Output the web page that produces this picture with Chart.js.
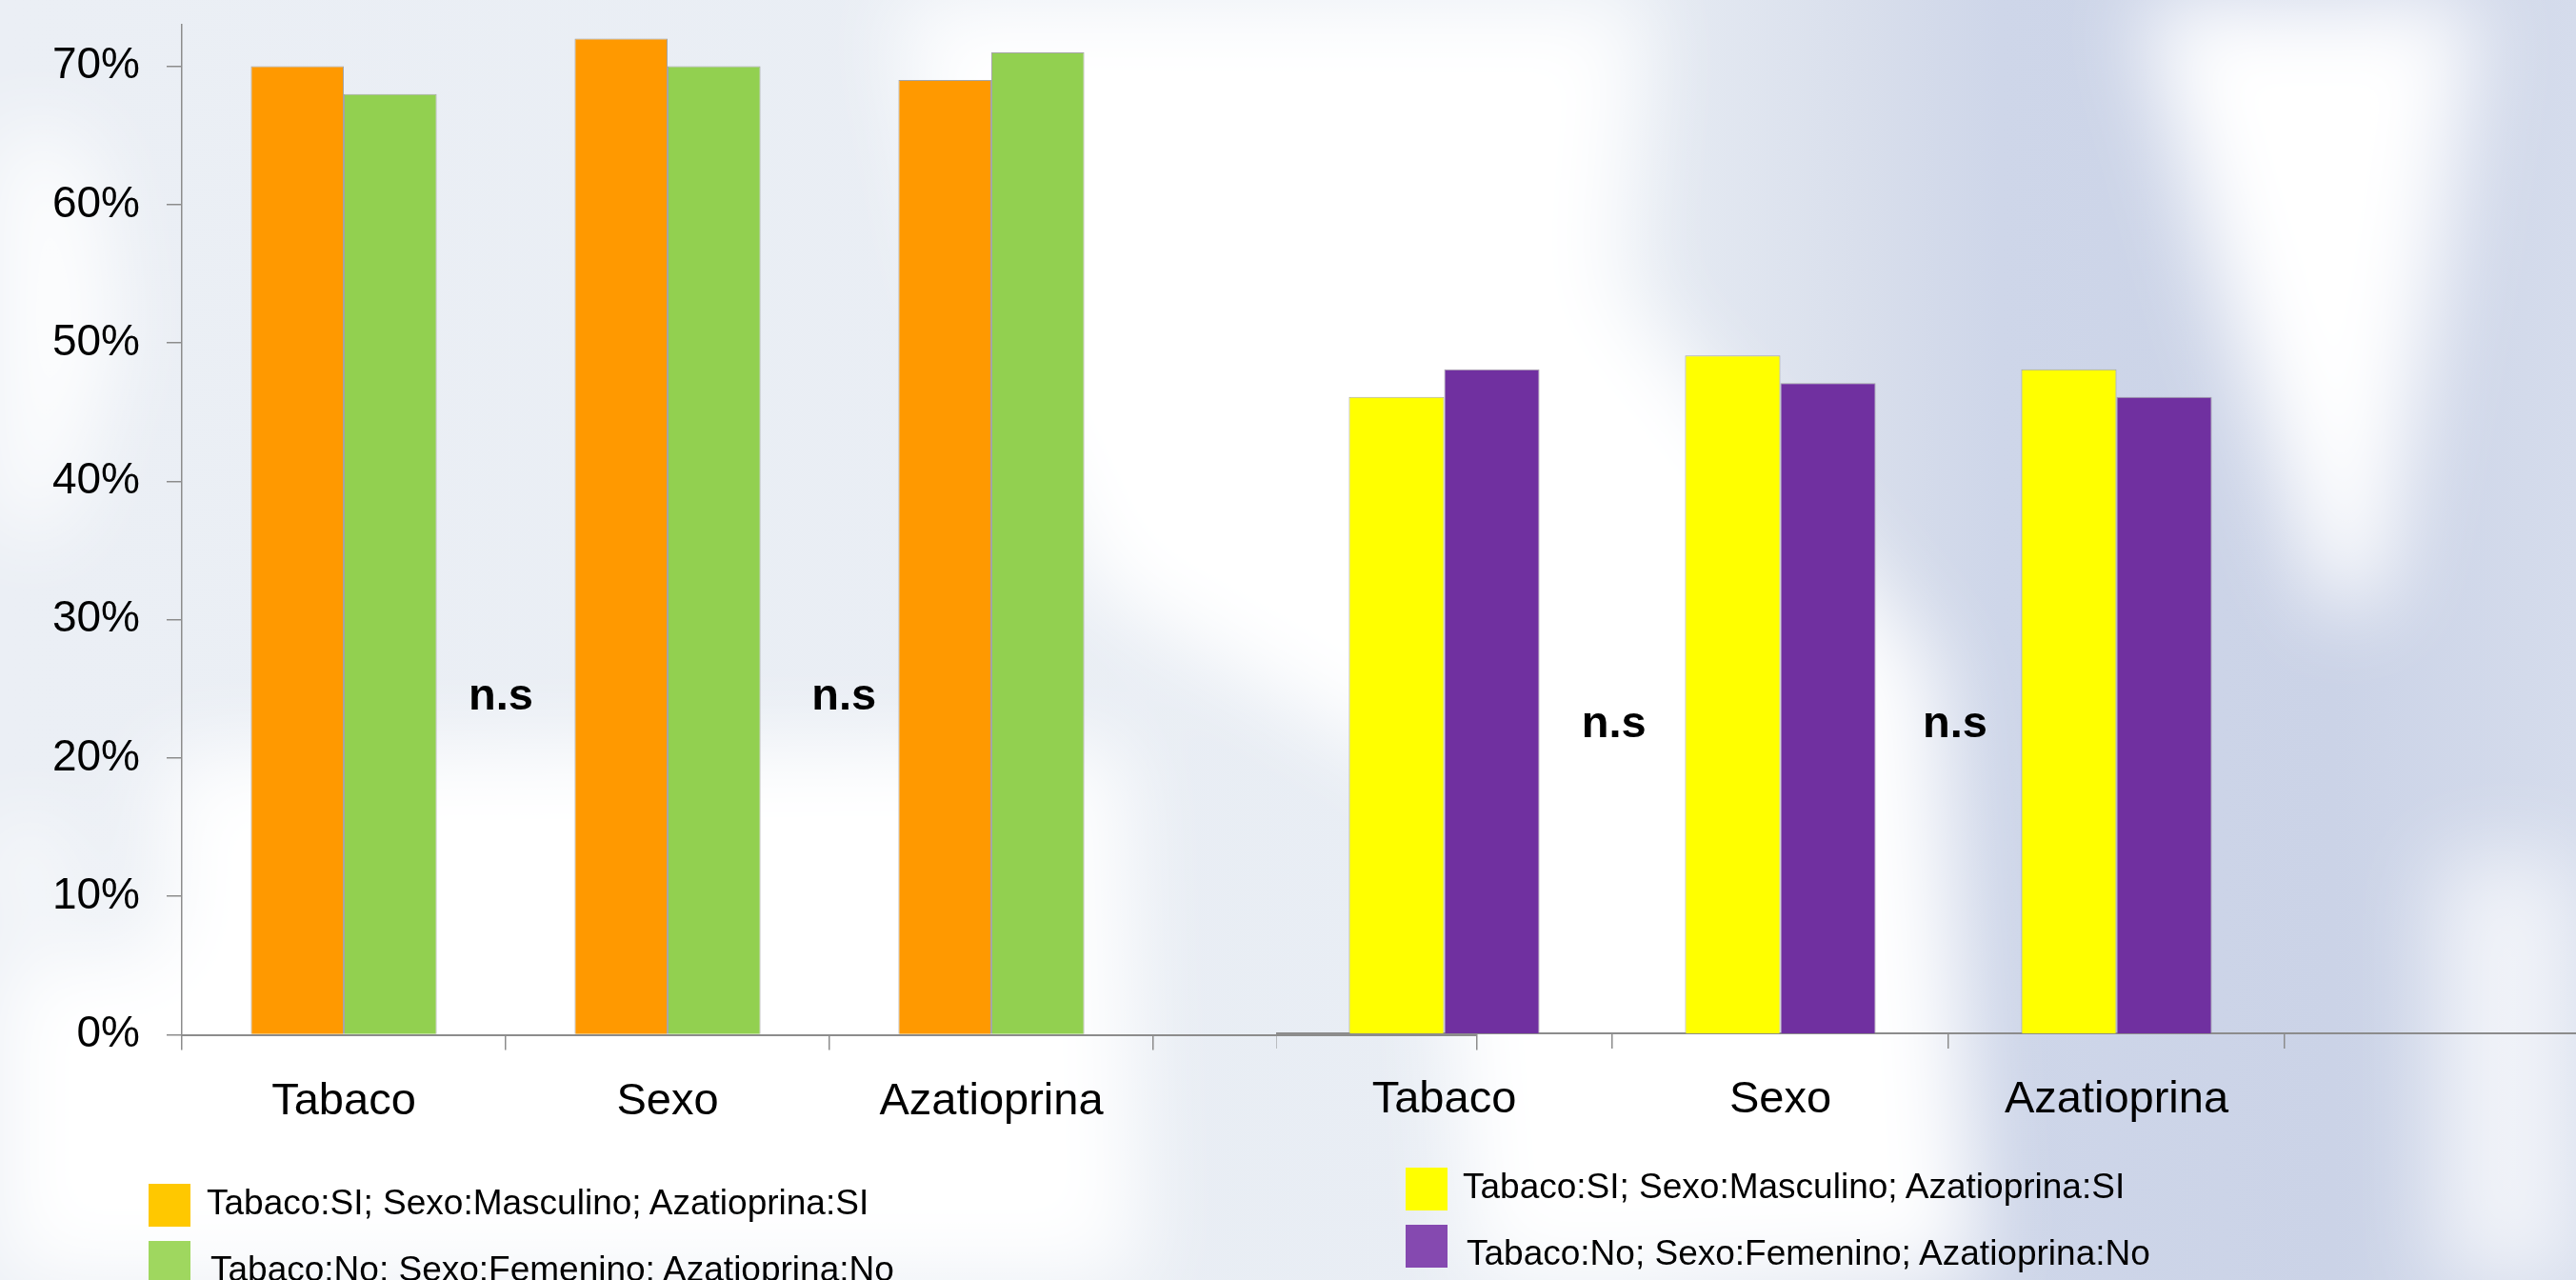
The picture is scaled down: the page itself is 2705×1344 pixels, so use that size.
<!DOCTYPE html>
<html lang="es">
  <head>
    <meta charset="UTF-8" />
    <title>Tabaco / Sexo / Azatioprina</title>
    <script src="https://cdn.jsdelivr.net/npm/chart.js"></script>
    <style>
      html,
      body {
        margin: 0;
        padding: 0;
        width: 2705px;
        height: 1344px;
        overflow: hidden;
        font-family: "Liberation Sans", Arial, sans-serif;
      }
      body {
        position: relative;
        background: linear-gradient(to right, #ebeff5 0px, #e8edf4 1700px, #d9dfec 1950px, #ced6e9 2100px, #cbd3e7 2450px, #d5dcec 2705px);
      }
      .blur {
        position: absolute;
        left: 0;
        top: 0;
        width: 2705px;
        height: 1344px;
        filter: blur(45px);
      }
      .blur div {
        position: absolute;
        left: 0;
        top: 0;
        width: 2705px;
        height: 1344px;
        background: #fff;
      }
      #wBottomLeft {
        clip-path: polygon(170px 790px, 1180px 780px, 1200px 1400px, -50px 1400px, -50px 1000px, 170px 1000px);
      }
      #wMiddle {
        clip-path: polygon(930px -50px, 1730px -50px, 1700px 300px, 2030px 700px, 2080px 1400px, 1550px 1400px, 1500px 820px, 1150px 620px, 1000px 300px);
      }
      #wTopRight {
        clip-path: polygon(2230px -50px, 2610px -50px, 2560px 300px, 2500px 640px, 2440px 640px, 2330px 300px);
      }
      #wBottomRight {
        clip-path: polygon(2560px 900px, 2760px 900px, 2760px 1400px, 2560px 1400px);
        opacity: 0.7;
      }
      #wLeftEdge {
        clip-path: polygon(-50px 120px, 90px 150px, 120px 350px, 60px 560px, -50px 560px);
      }
      #wLeftEdge2 {
        clip-path: polygon(-50px 860px, 60px 870px, 70px 950px, -50px 960px);
      }
      #leftWrap {
        position: absolute;
        left: 0;
        top: 0;
        width: 1553px;
        height: 1344px;
      }
      #rightWrap {
        position: absolute;
        left: 1340px;
        top: 0;
        width: 1420px;
        height: 1344px;
      }
      .swatch {
        position: absolute;
        width: 44px;
        height: 45px;
      }
      .ltext {
        position: absolute;
        white-space: nowrap;
        font-size: 37px;
        line-height: 37px;
        color: #000;
      }
    </style>
  </head>
  <body>
    <div class="blur">
      <div id="wBottomLeft"></div>
      <div id="wMiddle"></div>
      <div id="wTopRight"></div>
      <div id="wBottomRight"></div>
      <div id="wLeftEdge"></div>
      <div id="wLeftEdge2"></div>
    </div>

    <div id="leftWrap"><canvas id="leftChart"></canvas></div>
    <div id="rightWrap"><canvas id="rightChart"></canvas></div>

    <div class="swatch" id="lsw0" style="left: 156px; top: 1243px"></div>
    <div class="ltext" id="ltx0" style="left: 217px; top: 1244px"></div>
    <div class="swatch" id="lsw1" style="left: 156px; top: 1303px"></div>
    <div class="ltext" id="ltx1" style="left: 221px; top: 1314px"></div>

    <div class="swatch" id="rsw0" style="left: 1476px; top: 1226px"></div>
    <div class="ltext" id="rtx0" style="left: 1536px; top: 1227px"></div>
    <div class="swatch" id="rsw1" style="left: 1476px; top: 1286px"></div>
    <div class="ltext" id="rtx1" style="left: 1540px; top: 1297px"></div>

    <script>
      const categories = ["Tabaco", "Sexo", "Azatioprina", ""];
      const seriesNames = [
        "Tabaco:SI; Sexo:Masculino; Azatioprina:SI",
        "Tabaco:No; Sexo:Femenino; Azatioprina:No",
      ];

      // left panel (orange / green)
      const leftSiValues = [70, 72, 69, null];
      const leftNoValues = [68, 70, 71, null];
      // right panel (yellow / purple)
      const rightSiValues = [46, 49, 48, null];
      const rightNoValues = [48, 47, 46, null];

      const yTickValues = [0, 10, 20, 30, 40, 50, 60, 70];
      const Y_MAX = 73;

      // "n.s" marks: position between categories, height in %
      const nsLeftAt = [0.485, 1.545];
      const nsLeftValue = 23.5;
      const nsRightAt = [0.505, 1.52];
      const nsRightValue = 21.4;

      const barColors = { leftSi: "#ff9900", leftNo: "#92d050", rightSi: "#ffff00", rightNo: "#7030a0" };
      const legendColors = { leftSi: "#ffc800", leftNo: "#9fd75f", rightSi: "#ffff00", rightNo: "#8549b0" };

      const FONT = "'Liberation Sans', Arial, sans-serif";
      const AXIS_GREY = "#8c8c8c";

      function nsPlugin(positions, value) {
        return {
          id: "nsMarks",
          afterDatasetsDraw(chart) {
            const ctx = chart.ctx;
            const x = chart.scales.x;
            const y = chart.scales.y;
            ctx.save();
            ctx.fillStyle = "#000";
            ctx.font = "bold 47px " + FONT;
            ctx.textAlign = "center";
            ctx.textBaseline = "alphabetic";
            positions.forEach((p) => {
              ctx.fillText("n.s", x.getPixelForValue(p), y.getPixelForValue(value));
            });
            ctx.restore();
          },
        };
      }

      function xScale(height) {
        return {
          grid: {
            display: true,
            offset: true,
            drawOnChartArea: false,
            drawTicks: true,
            tickLength: 16,
            color: AXIS_GREY,
            lineWidth: 1.5,
          },
          border: { display: true, color: AXIS_GREY, width: 2 },
          ticks: {
            color: "#000",
            padding: 26,
            maxRotation: 0,
            autoSkip: false,
            font: { family: FONT, size: 47 },
          },
          afterFit(scale) {
            scale.height = height;
            scale.paddingLeft = 0;
            scale.paddingRight = 0;
          },
        };
      }

      function yScale(show) {
        return {
          display: show,
          min: 0,
          max: Y_MAX,
          afterBuildTicks(scale) {
            scale.ticks = yTickValues.map((v) => ({ value: v }));
          },
          grid: {
            drawOnChartArea: false,
            drawTicks: true,
            tickLength: 16,
            color: AXIS_GREY,
            lineWidth: 1.5,
          },
          border: { display: true, color: AXIS_GREY, width: 1.5 },
          ticks: {
            color: "#000",
            padding: 28,
            font: { family: FONT, size: 46 },
            callback: (v) => v + "%",
          },
          afterFit(scale) {
            if (show) scale.width = 191;
            scale.paddingTop = 0;
            scale.paddingBottom = 0;
          },
        };
      }

      function barDataset(label, data, color) {
        return {
          label: label,
          data: data,
          backgroundColor: color,
          borderColor: "rgba(150,150,150,0.85)",
          borderWidth: 1,
        };
      }

      new Chart(document.getElementById("leftChart"), {
        type: "bar",
        data: {
          labels: categories,
          datasets: [
            barDataset(seriesNames[0], leftSiValues, barColors.leftSi),
            barDataset(seriesNames[1], leftNoValues, barColors.leftNo),
          ],
        },
        options: {
          responsive: true,
          maintainAspectRatio: false,
          animation: false,
          devicePixelRatio: 1,
          layout: { padding: { top: 26, right: 2, left: 0, bottom: 0 } },
          datasets: { bar: { categoryPercentage: 0.574, barPercentage: 1 } },
          plugins: { legend: { display: false }, tooltip: { enabled: false } },
          scales: { x: xScale(1344 - 1086.5), y: yScale(true) },
        },
        plugins: [nsPlugin(nsLeftAt, nsLeftValue)],
      });

      new Chart(document.getElementById("rightChart"), {
        type: "bar",
        data: {
          labels: categories,
          datasets: [
            barDataset(seriesNames[0], rightSiValues, barColors.rightSi),
            barDataset(seriesNames[1], rightNoValues, barColors.rightNo),
          ],
        },
        options: {
          responsive: true,
          maintainAspectRatio: false,
          animation: false,
          devicePixelRatio: 1,
          layout: { padding: { top: 24.5, right: 8, left: 0, bottom: 0 } },
          datasets: { bar: { categoryPercentage: 0.567, barPercentage: 1 } },
          plugins: { legend: { display: false }, tooltip: { enabled: false } },
          scales: { x: xScale(1344 - 1085), y: yScale(false) },
        },
        plugins: [nsPlugin(nsRightAt, nsRightValue)],
      });

      // legends under each panel
      [
        ["l", legendColors.leftSi, legendColors.leftNo],
        ["r", legendColors.rightSi, legendColors.rightNo],
      ].forEach(([side, c0, c1]) => {
        document.getElementById(side + "sw0").style.background = c0;
        document.getElementById(side + "sw1").style.background = c1;
        document.getElementById(side + "tx0").textContent = seriesNames[0];
        document.getElementById(side + "tx1").textContent = seriesNames[1];
      });
    </script>
  </body>
</html>
